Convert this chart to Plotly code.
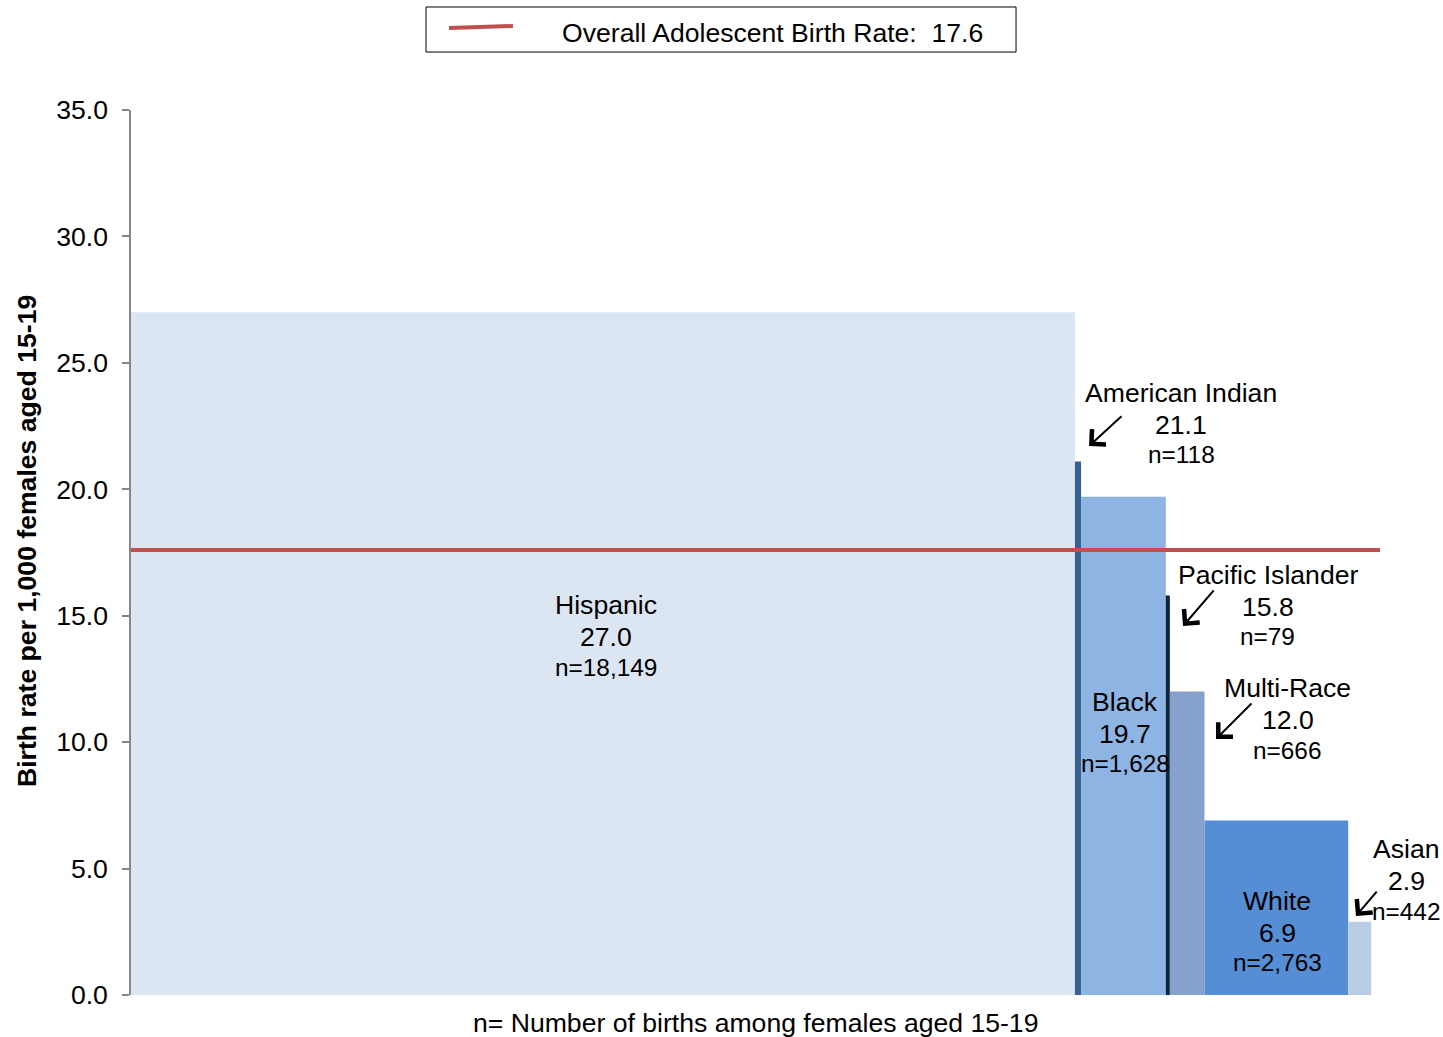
import plotly.graph_objects as go

# Adolescent (15-19) birth rates by race/ethnicity; bar width = number of births
groups = ["Hispanic", "American Indian", "Black", "Pacific Islander", "Multi-Race", "White", "Asian"]
rates = [27.0, 21.1, 19.7, 15.8, 12.0, 6.9, 2.9]
births = [18149, 118, 1628, 79, 666, 2763, 442]
overall_rate = 17.6

colors = ["#DCE6F2", "#376092", "#8DB4E2", "#10243F", "#86A2CC", "#558ED5", "#B9CDE5"]

X_MAX = 24014  # horizontal axis extent (births)
FONT = "Liberation Sans, Arial, sans-serif"
BIG = 26.6
SMALL = 24.4

# left edge and centre of each variable-width bar
centers = []
run = 0
for n in births:
    centers.append(run + n / 2)
    run += n

fig = go.Figure()
fig.add_trace(go.Bar(
    x=centers, y=rates, width=births, base=0,
    marker=dict(color=colors, line=dict(width=0)),
    hoverinfo="skip", showlegend=False,
))
fig.add_trace(go.Scatter(
    x=[0, X_MAX], y=[overall_rate, overall_rate], mode="lines",
    line=dict(color="#C0504D", width=4), showlegend=False, hoverinfo="skip",
))

def fmt_n(n):
    return "n={:,}".format(n)

annotations = []

def label(lines, x, ys, xshift=0, sizes=(BIG, BIG, SMALL)):
    for txt, y, s in zip(lines, ys, sizes):
        annotations.append(dict(
            x=x, y=y, xref="x", yref="y", text=txt, showarrow=False,
            xanchor="center", yanchor="middle", xshift=xshift,
            font=dict(family=FONT, size=s, color="#000000"),
        ))

def texts(i):
    return [groups[i], "{:.1f}".format(rates[i]), fmt_n(births[i])]

# labels placed inside their bars
label(texts(0), centers[0], [15.42, 14.16, 12.97], xshift=3)
label(texts(2), centers[2], [11.59, 10.32, 9.14], xshift=2)
label(texts(5), centers[5], [3.72, 2.45, 1.27], xshift=1)

# labels placed beside narrow bars, with pointer arrows
label(texts(1), 20188, [23.81, 22.54, 21.36])
label(texts(3), 21860, [16.61, 15.34, 14.16])
label(texts(4), 22245, [12.14, 10.88, 9.65])
label(texts(6), X_MAX, [5.77, 4.51, 3.32], xshift=26)

arrows = [  # (tail_x, tail_y, head_x, head_y)
    (19073, 22.94, 18419, 21.71),
    (20842, 16.06, 20226, 14.59),
    (21572, 11.59, 20861, 10.12),
    (23975, 4.15, 23552, 3.12),
]
for tx, ty, hx, hy in arrows:
    annotations.append(dict(
        x=hx, y=hy, ax=tx, ay=ty, xref="x", yref="y", axref="x", ayref="y",
        text="", showarrow=True, arrowhead=4, arrowsize=2.0, arrowwidth=2,
        arrowcolor="#000000", standoff=0, startstandoff=0,
    ))

# axis titles
annotations.append(dict(
    x=0.5, y=0, xref="paper", yref="paper", yshift=-28, xanchor="center", yanchor="middle",
    text="n= Number of births among females aged 15-19", showarrow=False,
    font=dict(family=FONT, size=BIG, color="#000000"),
))
annotations.append(dict(
    x=0, y=0.513, xref="paper", yref="paper", xshift=-104, xanchor="center", yanchor="middle",
    text="<b>Birth rate per 1,000 females aged 15-19</b>", textangle=-90, showarrow=False,
    font=dict(family=FONT, size=BIG, color="#000000"),
))

# legend box for the overall-rate line
annotations.append(dict(
    x=0.3435, y=1.087, xref="paper", yref="paper", xanchor="left", yanchor="middle",
    text="Overall Adolescent Birth Rate:\u00a0 {:.1f}".format(overall_rate), showarrow=False,
    font=dict(family=FONT, size=BIG, color="#000000"),
))
shapes = [
    dict(type="rect", xref="paper", yref="paper", x0=0.2362, x1=0.7086, y0=1.0655, y1=1.1164,
         line=dict(color="#000000", width=1), fillcolor="rgba(0,0,0,0)"),
    dict(type="line", xref="paper", yref="paper", x0=0.2546, x1=0.3058, y0=1.0927, y1=1.0949,
         line=dict(color="#C0504D", width=4)),
]

fig.update_layout(
    width=1443, height=1037,
    margin=dict(l=131, r=63, t=110, b=42),
    paper_bgcolor="white", plot_bgcolor="white",
    font=dict(family=FONT, size=BIG, color="#000000"),
    annotations=annotations, shapes=shapes,
    showlegend=False,
    xaxis=dict(range=[0, X_MAX], showgrid=False, zeroline=False, showline=False,
               showticklabels=False, ticks=""),
    yaxis=dict(range=[0, 35], dtick=5, tick0=0, tickformat=".1f", showgrid=False,
               zeroline=False, showline=True, linecolor="#868686", linewidth=1.5,
               ticks="outside", ticklen=7, tickcolor="#868686", tickwidth=1.5,
               ticklabelstandoff=9, tickfont=dict(family=FONT, size=BIG, color="#000000")),
)

fig.write_html("out.html")
